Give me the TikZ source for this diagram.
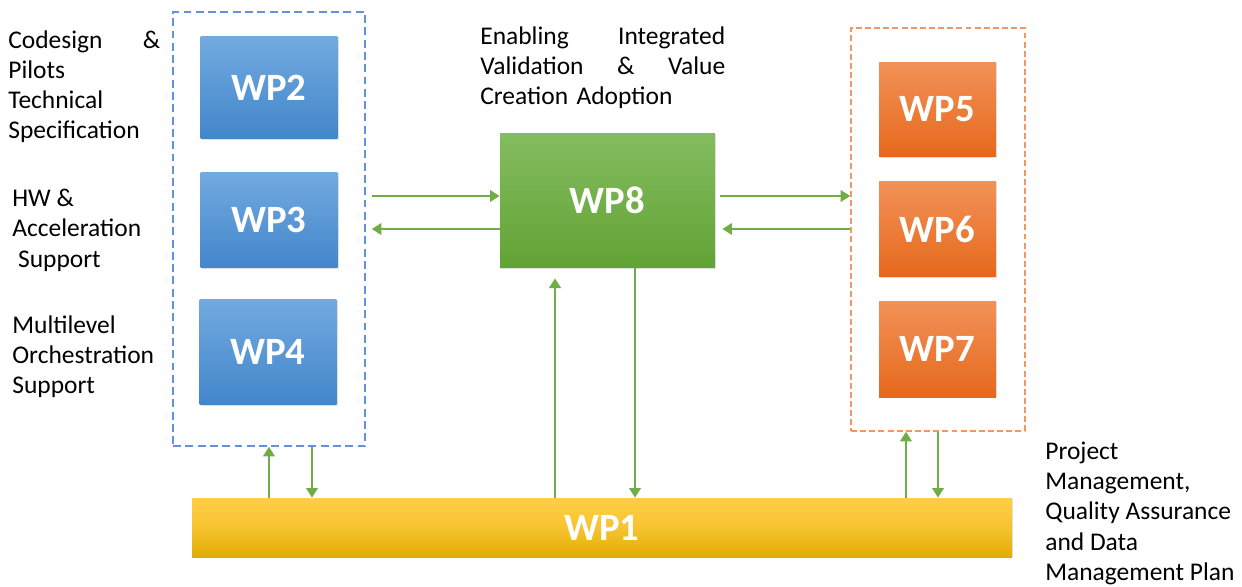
\documentclass[tikz,border=0pt]{standalone}
\usepackage{fontspec}
\setmainfont{Carlito}
\usepackage{xcolor}
\definecolor{wpblueTop}{RGB}{114,170,224}
\definecolor{wpblueBot}{RGB}{66,134,202}
\definecolor{wpgreenTop}{RGB}{132,188,96}
\definecolor{wpgreenBot}{RGB}{98,163,52}
\definecolor{wporangeTop}{RGB}{242,146,88}
\definecolor{wporangeBot}{RGB}{230,104,28}
\definecolor{wpyellowTop}{RGB}{255,206,70}
\definecolor{wpyellowBot}{RGB}{226,172,0}
\definecolor{flowgreen}{RGB}{112,173,71}
\definecolor{frameblue}{RGB}{100,144,222}
\definecolor{frameorange}{RGB}{242,150,100}
\usetikzlibrary{arrows.meta, positioning, calc, shadows}

\tikzset{
    wpbox/.style={inner sep=0pt, text=white, font=\fontsize{22}{26}\selectfont\bfseries,
        drop shadow={opacity=0.25, shadow xshift=0.6pt, shadow yshift=-0.8pt}},
    wpblue/.style={wpbox, top color=wpblueTop, bottom color=wpblueBot,
        minimum width=2.74cm},
    wporange/.style={wpbox, top color=wporangeTop, bottom color=wporangeBot,
        minimum width=2.34cm, minimum height=1.92cm},
    frame/.style={inner sep=0pt, line width=0.85pt},
    flow/.style={->, flowgreen, line width=1.5pt},
    note/.style={inner sep=0pt, anchor=north west, align=left,
        font=\fontsize{14.5}{17.2}\selectfont},
}

\begin{document}
\begin{tikzpicture}[x=0.02cm, y=-0.02cm, >={Triangle[width=6.5pt,length=5.5pt]}]
    \useasboundingbox (0,0) rectangle (1242,586);

    % dashed groups
    \node[frame, draw=frameblue, dash pattern=on 4.5pt off 2.5pt,
        minimum width=3.84cm, minimum height=8.68cm] (blueframe) at (269,229) {};
    \node[frame, draw=frameorange, dash pattern=on 3.4pt off 1.8pt,
        minimum width=3.48cm, minimum height=8.06cm] (orangeframe) at (938,229.5) {};

    % work packages
    \node[wpblue, minimum height=2.06cm] (wp2) at (269,87.5) {WP2};
    \node[wpblue, minimum height=1.92cm] (wp3) at (269,220) {WP3};
    \node[wpblue, minimum height=2.12cm] (wp4) at (268,352) {WP4};

    \node[wpbox, top color=wpgreenTop, bottom color=wpgreenBot,
        minimum width=4.3cm, minimum height=2.7cm] (wp8) at (607.5,200.5) {WP8};

    \node[wporange, minimum height=1.9cm] (wp5) at (937.5,109.5) {WP5};
    \node[wporange] (wp6) at (937.5,229) {WP6};
    \node[wporange] (wp7) at (937.5,349) {WP7};

    \node[wpbox, top color=wpyellowTop, bottom color=wpyellowBot,
        middle color=wpyellowTop!70!wpyellowBot,
        minimum width=16.4cm, minimum height=1.18cm] (wp1) at (602,527.5) {WP1};

    % descriptions
    \node[note, text width=3.04cm] (codesign) at (8,30)
        {Codesign \hfill \&\\ Pilots\\ Technical\\ Specification};
    \node[note] (hwacc) at (12,189) {HW \&\\ Acceleration\\ \ Support};
    \node[note] (orch) at (12,315) {Multilevel\\ Orchestration\\ Support};
    \node[note, text width=4.9cm] (enabling) at (480,26)
        {Enabling \hfill Integrated\\ Validation \hfill \& \hfill Value\\ Creation Adoption};
    \node[note] (pm) at (1045,441.5)
        {Project\\ Management,\\ Quality Assurance\\ and Data\\ Management Plan};

    % free ends
    \coordinate (bIn)  at ($(blueframe.east)+(6,-33)$);
    \coordinate (bOut) at ($(blueframe.east)+(6,0)$);
    \coordinate (oOut) at ($(wp8.east)+(5,-4.5)$);
    \coordinate (oIn)  at ($(wp8.east)+(7,28.5)$);
    \coordinate (upA)  at ($(wp8.south)+(-52.5,10)$);
    \coordinate (dnA)  at ($(wp8.south)+(27.5,0)$);
    \coordinate (bUp)  at (blueframe.south);
    \coordinate (bDn)  at ($(blueframe.south)+(43,0)$);
    \coordinate (oUp)  at ($(orangeframe.south)+(-32,0)$);
    \coordinate (oDn)  at (orangeframe.south);

    % flows to and from WP8
    \draw[flow] (bIn) -- (bIn -| wp8.west);
    \draw[flow] (wp8.west |- oIn) -- (bOut |- oIn);
    \draw[flow] (oOut) -- (oOut -| orangeframe.west);
    \draw[flow] (orangeframe.west |- oIn) -- (oIn);
    \draw[flow] (wp1.north -| upA) -- (upA);
    \draw[flow] (dnA) -- (dnA |- wp1.north);

    % flows to and from WP1
    \draw[flow] (wp1.north -| bUp) -- (bUp);
    \draw[flow] (bDn) -- (bDn |- wp1.north);
    \draw[flow] (wp1.north -| oUp) -- (oUp);
    \draw[flow] (oDn) -- (oDn |- wp1.north);
\end{tikzpicture}
\end{document}
